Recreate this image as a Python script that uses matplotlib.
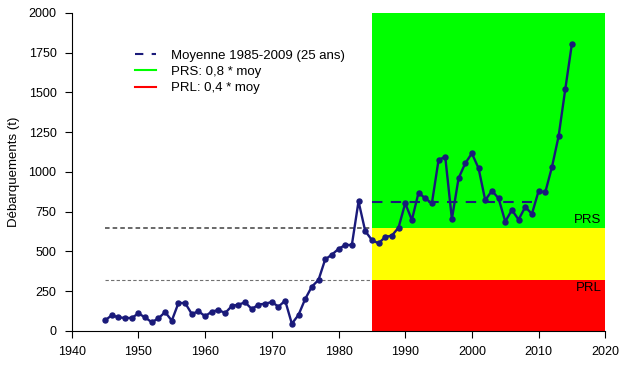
import numpy as np
import matplotlib
matplotlib.use("Agg")
import matplotlib.pyplot as plt

plt.rcParams['font.family'] = ['Liberation Sans', 'DejaVu Sans']

# landings per year (t)
years = np.arange(1945, 2016)
landings = np.array([
    67, 99, 86, 82, 82, 111, 85, 55, 80, 119,       # 1945-1954
    65, 176, 176, 107, 124, 93, 122, 132, 113, 157,  # 1955-1964
    166, 180, 138, 166, 172, 182, 153, 191, 46, 101, # 1965-1974
    201, 279, 321, 450, 480, 516, 541, 541, 815, 629, # 1975-1984
    572, 551, 591, 600, 650, 803, 698, 870, 834, 803, # 1985-1994
    1075, 1096, 704, 960, 1054, 1117, 1023, 822, 882, 834, # 1995-2004
    688, 761, 700, 780, 736, 880, 872, 1030, 1224, 1520, # 2005-2014
    1807])                                            # 2015

ref_start, ref_end = 1985, 2009
mean_ref = landings[(years >= ref_start) & (years <= ref_end)].mean()
prs = 0.8 * mean_ref
prl = 0.4 * mean_ref

zone_x = [1985, 2020]
old_x = [1945, 1985]

fig = plt.figure(figsize=(6.24, 3.69), dpi=100)
ax = fig.add_axes([0.115, 0.103, 0.855, 0.862])

# coloured zones
ax.fill_between(zone_x, prs, 2000, color="#00ff00", lw=0, zorder=0)
ax.fill_between(zone_x, prl, prs, color="#ffff00", lw=0, zorder=0)
ax.fill_between(zone_x, 0, prl, color="#ff0000", lw=0, zorder=0)

# thresholds extended back in time
ax.plot(old_x, [prs, prs], ls=(0, (3, 2)), color="#404040", lw=1.1, zorder=1)
ax.plot(old_x, [prl, prl], ls=(0, (3, 2)), color="#707070", lw=0.8, zorder=1)

ax.plot(years, landings, color="#1a1a7a", lw=1.7, marker="o", ms=3.6, zorder=3)
ax.plot([ref_start, ref_end], [mean_ref, mean_ref], ls=(0, (5, 4)),
        color="#1a1a7a", lw=1.5, zorder=2)

ax.text(2019.4, prs + 15, "PRS", ha="right", va="bottom", fontsize=9.5)
ax.text(2019.4, prl - 15, "PRL", ha="right", va="top", fontsize=9.5)

# legend handles
h1, = ax.plot([], [], ls=(0, (4, 4)), color="#1a1a7a", lw=1.5)
h2, = ax.plot([], [], color="#00ff00", lw=1.5)
h3, = ax.plot([], [], color="#ff0000", lw=1.5)
ax.legend([h1, h2, h3], ["Moyenne 1985-2009 (25 ans)", "PRS: 0,8 * moy", "PRL: 0,4 * moy"],
          loc="upper left", bbox_to_anchor=(0.118, 0.885), frameon=False,
          fontsize=9.5, handlelength=1.6, handletextpad=1.15, labelspacing=0.3,
          borderpad=0, borderaxespad=0)

ax.set_xlim(1940, 2020)
ax.set_ylim(0, 2000)
ax.set_xticks(np.arange(1940, 2021, 10))
ax.set_yticks(np.arange(0, 2001, 250))
ax.tick_params(direction="out", length=5, labelsize=9, pad=6)
ax.set_ylabel("Débarquements (t)", fontsize=9.5, labelpad=6)
for s in ["top", "right"]:
    ax.spines[s].set_visible(False)

fig.savefig("out.png", dpi=100)
